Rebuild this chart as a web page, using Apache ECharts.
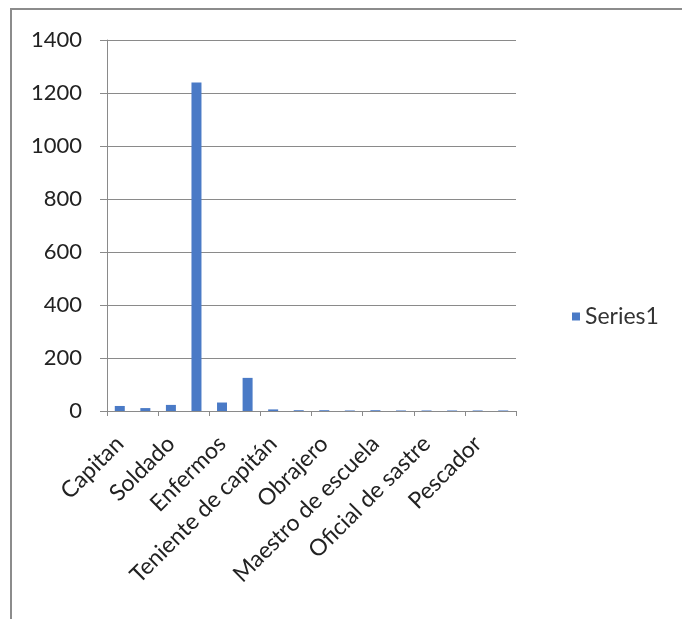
<!DOCTYPE html>
<html>
<head>
<meta charset="utf-8">
<script src="https://cdn.jsdelivr.net/npm/echarts@6/dist/echarts.min.js"></script>
<style>
  html, body { margin: 0; padding: 0; background: #fff; }
  #myEcharts { width: 682px; height: 619px; }
</style>
</head>
<body>
<div id="myEcharts"></div>
<script>
// categories (only every other one is labelled on the axis)
const categories = [
  'Capitan', 'Cabo', 'Soldado', 'Tambor', 'Enfermos', 'Sargento',
  'Teniente de capitán', 'Alférez', 'Obrajero', 'Carpintero',
  'Maestro de escuela', 'Herrero', 'Oficial de sastre', 'Zapatero',
  'Pescador', 'Labrador'
];
const series1 = [19, 11, 23, 1240, 32, 125, 6, 3, 3, 2, 3, 2, 2, 2, 2, 2];
const yTicks = [0, 200, 400, 600, 800, 1000, 1200, 1400];

const chartDom = document.getElementById('myEcharts');
const myChart = echarts.init(chartDom);
const font = 'Lato, "Open Sans", sans-serif';

const option = {
  animation: false,
  textStyle: { fontFamily: font },
  graphic: [
    {
      type: 'rect',
      shape: { x: 11, y: 9, width: 690, height: 640 },
      style: { fill: 'none', stroke: '#8c8c8c', lineWidth: 2 }
    }
  ],
  grid: { left: 107, right: 166, top: 40, bottom: 208 },
  legend: {
    left: 567,
    top: 300,
    orient: 'vertical',
    itemWidth: 8,
    itemHeight: 8,
    itemGap: 6,
    icon: 'rect',
    textStyle: { fontSize: 23, color: '#333', fontFamily: font },
    data: ['Series1']
  },
  xAxis: {
    type: 'category',
    data: categories,
    axisLine: { lineStyle: { color: '#8a8a8a', width: 1 } },
    axisTick: { show: true, length: 5, lineStyle: { color: '#8a8a8a' } },
    axisLabel: {
      interval: 1,
      rotate: 45,
      fontSize: 23,
      color: '#222',
      margin: 29
    }
  },
  yAxis: {
    type: 'value',
    min: yTicks[0],
    max: yTicks[yTicks.length - 1],
    interval: 200,
    axisLine: { show: true, lineStyle: { color: '#8a8a8a' } },
    axisTick: { show: true, length: 7, lineStyle: { color: '#8a8a8a' } },
    axisLabel: {
      fontSize: 22,
      color: '#222',
      margin: 25,
      formatter: function (v) { return String(v); }
    },
    splitLine: { lineStyle: { color: '#8a8a8a', width: 1 } }
  },
  series: [
    {
      name: 'Series1',
      type: 'bar',
      data: series1,
      barWidth: 10,
      itemStyle: { color: '#4a7ac6' }
    }
  ]
};

myChart.setOption(option);
</script>
</body>
</html>
